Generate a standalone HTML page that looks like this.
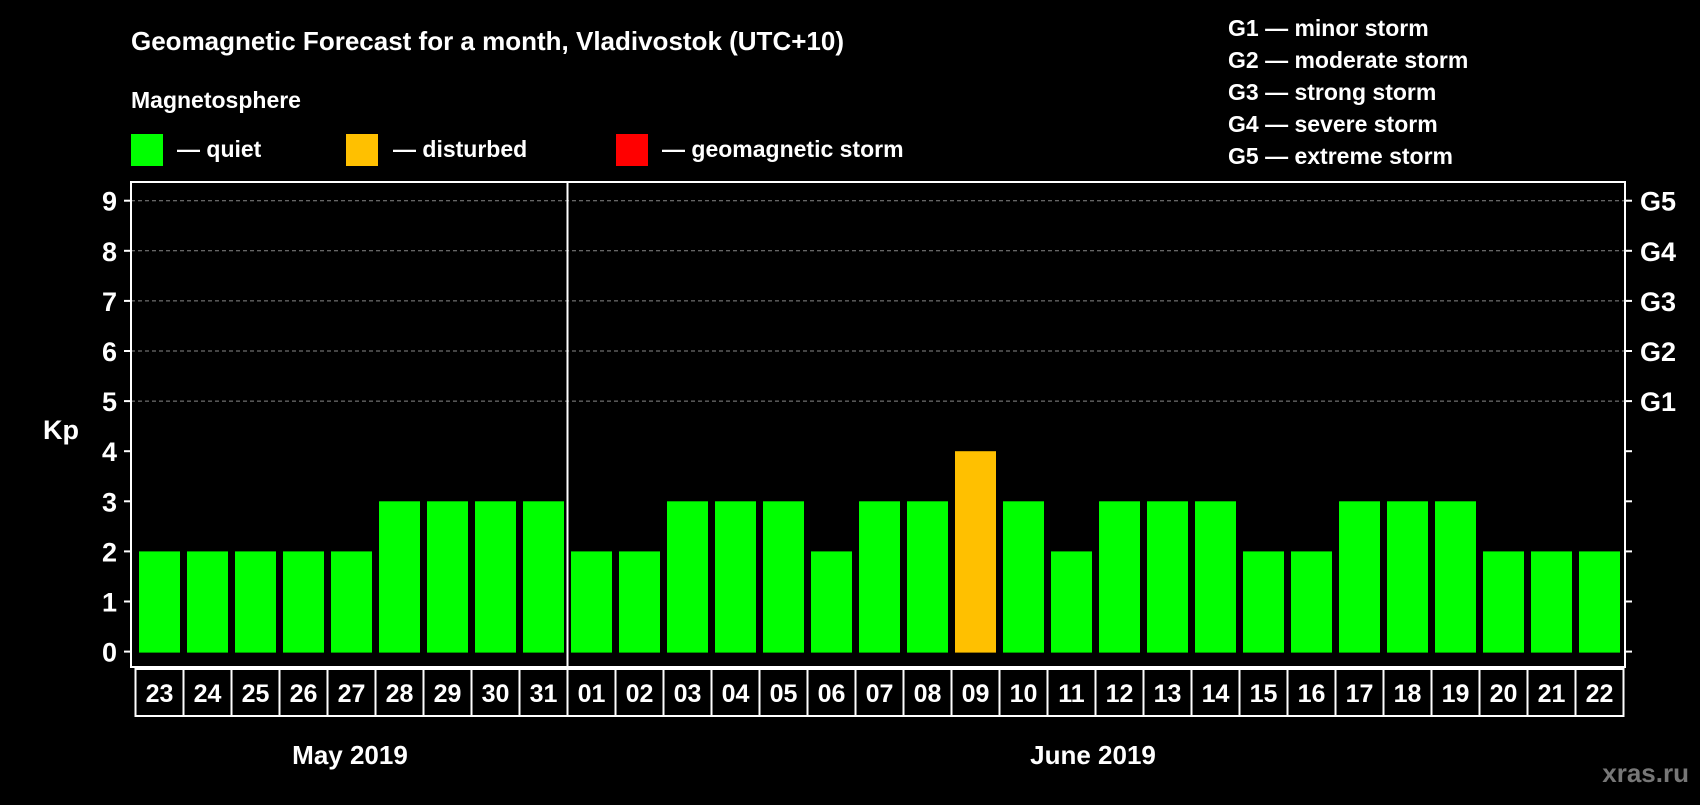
<!DOCTYPE html>
<html><head><meta charset="utf-8"><style>
body{margin:0;background:#000;width:1700px;height:800px;overflow:hidden;font-family:"Liberation Sans",sans-serif}
svg text{font-family:"Liberation Sans",sans-serif;font-weight:bold;fill:#fff}
</style></head><body>
<svg id="c" width="1700" height="800">
<text x="131" y="50" font-size="26">Geomagnetic Forecast for a month, Vladivostok (UTC+10)</text>
<text x="131" y="108" font-size="23">Magnetosphere</text>
<rect x="131" y="134" width="32" height="32" fill="#00ff00"/>
<text x="177" y="157" font-size="23">— quiet</text>
<rect x="346" y="134" width="32" height="32" fill="#ffc000"/>
<text x="393" y="157" font-size="23">— disturbed</text>
<rect x="616" y="134" width="32" height="32" fill="#ff0000"/>
<text x="662" y="157" font-size="23">— geomagnetic storm</text>
<g font-size="23">
<text x="1228" y="36">G1 — minor storm</text>
<text x="1228" y="68">G2 — moderate storm</text>
<text x="1228" y="100">G3 — strong storm</text>
<text x="1228" y="132">G4 — severe storm</text>
<text x="1228" y="164">G5 — extreme storm</text>
</g>
<text x="43" y="439" font-size="27">Kp</text>
<text x="350" y="764" font-size="26" text-anchor="middle">May 2019</text>
<text x="1093" y="764" font-size="26" text-anchor="middle">June 2019</text>
<text x="1689" y="782" font-size="26" text-anchor="end" style="fill:#777">xras.ru</text>
<g id="plot"></g>
</svg>
<script>
const days=["23","24","25","26","27","28","29","30","31","01","02","03","04","05","06","07","08","09","10","11","12","13","14","15","16","17","18","19","20","21","22"];
const kp=[2,2,2,2,2,3,3,3,3,2,2,3,3,3,2,3,3,4,3,2,3,3,3,2,2,3,3,3,2,2,2];
const yTicks=[0,1,2,3,4,5,6,7,8,9];
const gLabels=["G1","G2","G3","G4","G5"];
const NS="http://www.w3.org/2000/svg";
const g=document.getElementById('plot');
const L=131,R=1625,T=182,B=667,cL=135.5,cW=48;
const y=v=>651.6-v*50.1;
const x=i=>cL+i*cW;
function mk(t,a){const e=document.createElementNS(NS,t);for(const k in a)e.setAttribute(k,a[k]);g.appendChild(e);return e;}
yTicks.forEach(v=>{
 if(v>=5){const l=mk('line',{x1:L,x2:R,y1:y(v),y2:y(v),stroke:'#888','stroke-dasharray':'4,3'});
 
 }
 const t=mk('line',{x1:L-7,x2:L,y1:y(v),y2:y(v),stroke:'#fff','stroke-width':2});
 
 
 const tx=mk('text',{x:L-14,y:y(v)+10,'font-size':27,'text-anchor':'end'});tx.textContent=v;
 
 
 const rt=mk('line',{x1:R,x2:R+7,y1:y(v),y2:y(v),stroke:'#fff','stroke-width':2});
 
 
});
gLabels.forEach((s,i)=>{const t=mk('text',{x:R+15,y:y(i+5)+10,'font-size':27});t.textContent=s;
 
 });
kp.forEach((v,i)=>{
 const b=mk('rect',{x:x(i)+3.5,y:y(v),width:41,height:y(0)-y(v)+1,fill:v>=5?'#ff0000':v>=4?'#ffc000':'#00ff00'});
 
 
 const c=mk('rect',{x:x(i),y:669,width:cW,height:47,fill:'none',stroke:'#fff','stroke-width':2});
 
 
 const t=mk('text',{x:x(i)+cW/2,y:702,'font-size':25,'text-anchor':'middle'});t.textContent=days[i];
 
 
});
const f=mk('rect',{x:L,y:T,width:R-L,height:B-T,fill:'none',stroke:'#fff','stroke-width':2});


const d=mk('line',{x1:x(9),x2:x(9),y1:T,y2:B,stroke:'#fff','stroke-width':2});


</script>
</body></html>
